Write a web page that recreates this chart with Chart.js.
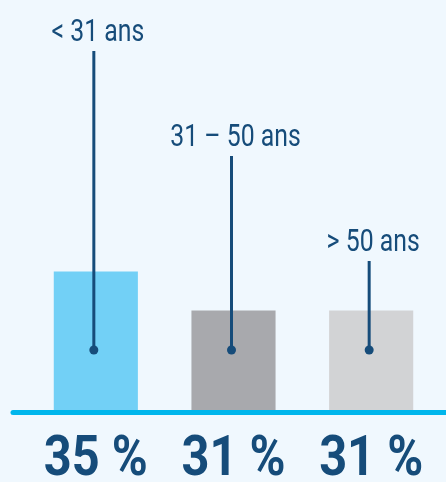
<!DOCTYPE html>
<html>
<head>
<meta charset="utf-8">
<script src="https://cdn.jsdelivr.net/npm/chart.js@4/dist/chart.umd.min.js"></script>
<style>
	html, body {
		margin: 0;
		padding: 0;
		background: #f0f8fe;
	}
	#wrap {
		width: 446px;
		height: 482px;
	}
</style>
</head>
<body>
<div id="wrap"><canvas id="ageCanvas"></canvas></div>
<script>
const ageGroups = ["< 31 ans", "31 – 50 ans", "> 50 ans"];
const shares = [35, 31, 31];
const shareLabels = ["35 %", "31 %", "31 %"];
const barColors = ["#72d0f6", "#a8a9ad", "#d2d3d5"];

const darkBlue = "#164c7a";

// draws text squeezed horizontally to look like a condensed face
function condensedText(ctx, text, x, y, squeeze) {
	ctx.save();
	ctx.translate(x, y);
	ctx.scale(squeeze, 1);
	ctx.fillText(text, 0, 0);
	ctx.restore();
}

const decorPlugin = {
	id: "decor",
	afterDatasetsDraw(chart) {
		const ctx = chart.ctx;
		const area = chart.chartArea;
		const meta = chart.getDatasetMeta(0);

		// baseline
		ctx.save();
		ctx.strokeStyle = "#00b6ec";
		ctx.lineWidth = 5;
		ctx.lineCap = "round";
		ctx.beginPath();
		ctx.moveTo(13, area.bottom + 2.5);
		ctx.lineTo(chart.width + 5, area.bottom + 2.5);
		ctx.stroke();
		ctx.restore();

		meta.data.forEach((bar, i) => {
			const x = bar.x;
			const labelBase = 41 + i * 105;

			// leader line with dot
			ctx.save();
			ctx.strokeStyle = darkBlue;
			ctx.fillStyle = darkBlue;
			ctx.lineWidth = 3;
			ctx.beginPath();
			ctx.moveTo(x - 2, labelBase + 10);
			ctx.lineTo(x - 2, area.bottom - 60);
			ctx.stroke();
			ctx.beginPath();
			ctx.arc(x - 2, area.bottom - 60, 4.5, 0, Math.PI * 2);
			ctx.fill();

			// group name
			ctx.font = "31px Roboto";
			ctx.textAlign = "center";
			ctx.textBaseline = "alphabetic";
			condensedText(ctx, ageGroups[i], x + 2, labelBase, 0.8);

			// share below the axis
			ctx.font = "bold 56px Roboto";
			condensedText(ctx, shareLabels[i], x, 475, 0.87);
			ctx.restore();
		});
	},
};

function createAgeChart() {
	const ctx = document.getElementById("ageCanvas").getContext("2d");
	new Chart(ctx, {
		type: "bar",
		data: {
			labels: ageGroups,
			datasets: [
				{
					data: shares,
					backgroundColor: barColors,
					barPercentage: 0.611,
					categoryPercentage: 1,
				},
			],
		},
		options: {
			responsive: true,
			maintainAspectRatio: false,
			animation: false,
			layout: {
				padding: {
					top: 0,
					left: 27,
					right: 6,
					bottom: 72,
				},
			},
			plugins: {
				legend: { display: false },
				tooltip: { enabled: false },
			},
			scales: {
				x: { display: false },
				y: { display: false, min: 20.8, max: 62.8 },
			},
		},
		plugins: [decorPlugin],
	});
}

createAgeChart();
</script>
</body>
</html>
